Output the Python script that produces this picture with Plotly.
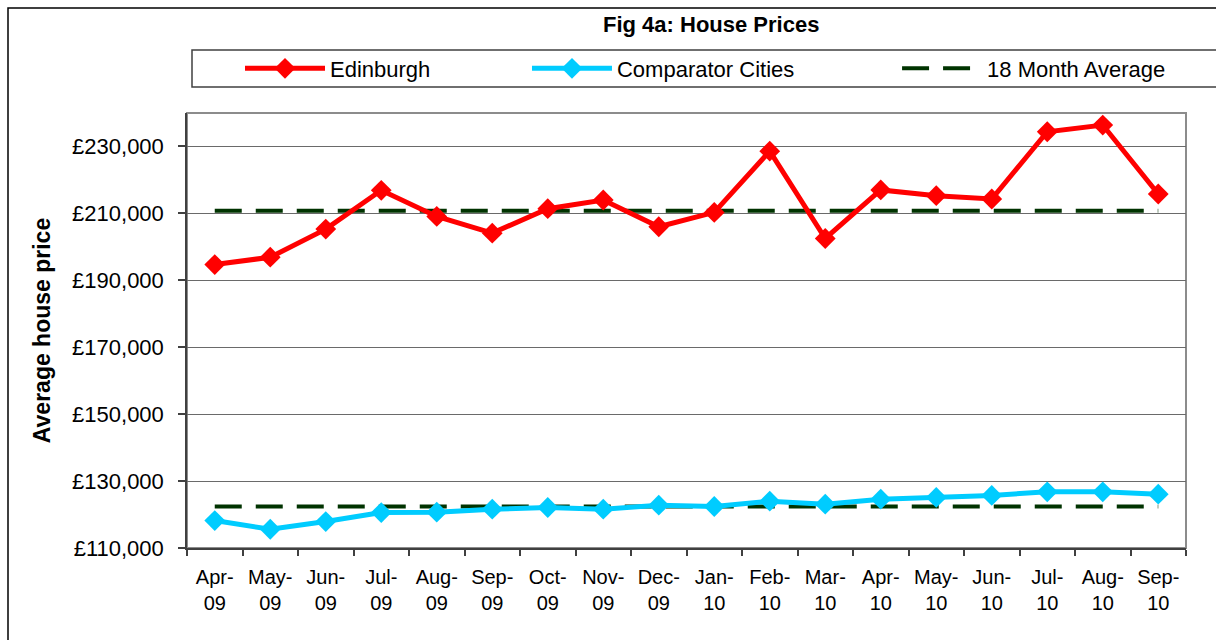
import plotly.graph_objects as go

# ---- data ----
months = ["Apr-09", "May-09", "Jun-09", "Jul-09", "Aug-09", "Sep-09", "Oct-09", "Nov-09", "Dec-09",
          "Jan-10", "Feb-10", "Mar-10", "Apr-10", "May-10", "Jun-10", "Jul-10", "Aug-10", "Sep-10"]
tick_labels = ["Apr-<br>09", "May-<br>09", "Jun-<br>09", "Jul-<br>09", "Aug-<br>09", "Sep-<br>09",
               "Oct-<br>09", "Nov-<br>09", "Dec-<br>09", "Jan-<br>10", "Feb-<br>10", "Mar-<br>10",
               "Apr-<br>10", "May-<br>10", "Jun-<br>10", "Jul-<br>10", "Aug-<br>10", "Sep-<br>10"]
edinburgh = [194700, 196900, 205300, 216900, 209100, 204100, 211400, 214000, 206000,
             210300, 228600, 202500, 217000, 215300, 214300, 234400, 236400, 215800]
comparator = [118200, 115600, 117900, 120600, 120700, 121600, 122100, 121600, 122800,
              122400, 124000, 123100, 124600, 125100, 125700, 126800, 126800, 126100]
edinburgh_avg = 210800
comparator_avg = 122400
y_ticks = [110000, 130000, 150000, 170000, 190000, 210000, 230000]
y_tick_labels = ["\u00a3110,000", "\u00a3130,000", "\u00a3150,000", "\u00a3170,000",
                 "\u00a3190,000", "\u00a3210,000", "\u00a3230,000"]

FONT = "Liberation Sans, Arial, sans-serif"
NB = "\u00a0"

W, H = 1216, 640
L, R, T, B = 187, 1186, 113, 548
pw, ph = R - L, B - T


def px(x):
    return (x - L) / pw


def py(y):
    return (B - y) / ph


fig = go.Figure()

avg_style = dict(color="#003300", width=4, dash="27px,14px")
fig.add_trace(go.Scatter(x=months, y=[edinburgh_avg] * len(months), mode="lines",
                         line=avg_style, name="18 Month Average", legendrank=3,
                         hoverinfo="skip"))
fig.add_trace(go.Scatter(x=months, y=[comparator_avg] * len(months), mode="lines",
                         line=avg_style, name="18 Month Average (comparator)", showlegend=False,
                         hoverinfo="skip"))
fig.add_trace(go.Scatter(x=months, y=comparator, mode="lines+markers",
                         line=dict(color="#00CCFF", width=5),
                         marker=dict(symbol="diamond", size=16, color="#00CCFF"),
                         name="Comparator Cities" + NB * 16, legendrank=2))
fig.add_trace(go.Scatter(x=months, y=edinburgh, mode="lines+markers",
                         line=dict(color="#FF0000", width=5),
                         marker=dict(symbol="diamond", size=16, color="#FF0000"),
                         name="Edinburgh" + NB * 15, legendrank=1))

fig.update_layout(
    width=W, height=H,
    margin=dict(l=L, r=W - R, t=T, b=H - B, autoexpand=False),
    paper_bgcolor="white", plot_bgcolor="white",
    font=dict(family=FONT, color="black", size=20),
    showlegend=True,
    legend=dict(orientation="h", x=px(240), xanchor="left", y=py(68.5), yanchor="middle",
                font=dict(size=22, family=FONT), itemwidth=80, bgcolor="rgba(0,0,0,0)",
                borderwidth=0, traceorder="normal"),
    xaxis=dict(type="category", categoryorder="array", categoryarray=months,
               tickvals=months, ticktext=tick_labels, tickson="boundaries",
               ticks="outside", ticklen=6, tickcolor="#404040", tickwidth=1.5,
               showline=True, linecolor="#404040", linewidth=1.5,
               showgrid=False, zeroline=False, tickfont=dict(size=20),
               ticklabelstandoff=10, range=[-0.5, 17.5], automargin=False),
    yaxis=dict(range=[110000, 240000], tickvals=y_ticks, ticktext=y_tick_labels,
               ticks="outside", ticklen=7, tickcolor="#404040", tickwidth=1.5,
               showline=True, linecolor="#404040", linewidth=1.5,
               showgrid=True, gridcolor="#6a6a6a", gridwidth=1, zeroline=False,
               tickfont=dict(size=22), ticklabelstandoff=10, automargin=False,
               title=dict(text="<b>Average house price</b>", font=dict(size=23), standoff=15)),
    shapes=[
        # plot area border
        dict(type="rect", xref="paper", yref="paper", x0=0, x1=1, y0=0, y1=1,
             line=dict(color="#8c8c8c", width=2), layer="below"),
        # legend box
        dict(type="rect", xref="paper", yref="paper", x0=px(192), x1=px(1240),
             y0=py(87), y1=py(50), line=dict(color="#404040", width=1.5), layer="below"),
        # outer chart frame
        dict(type="rect", xref="paper", yref="paper", x0=px(8), x1=px(1260),
             y0=py(700), y1=py(8), line=dict(color="black", width=1.5), layer="below"),
    ],
    annotations=[
        dict(text="<b>Fig 4a: House Prices</b>", xref="paper", yref="paper",
             x=px(711), y=py(25), xanchor="center", yanchor="middle", showarrow=False,
             font=dict(size=22, family=FONT)),
    ],
)

fig.write_html("out.html", config={"displayModeBar": False},
               post_script="document.body.style.margin='0';")
